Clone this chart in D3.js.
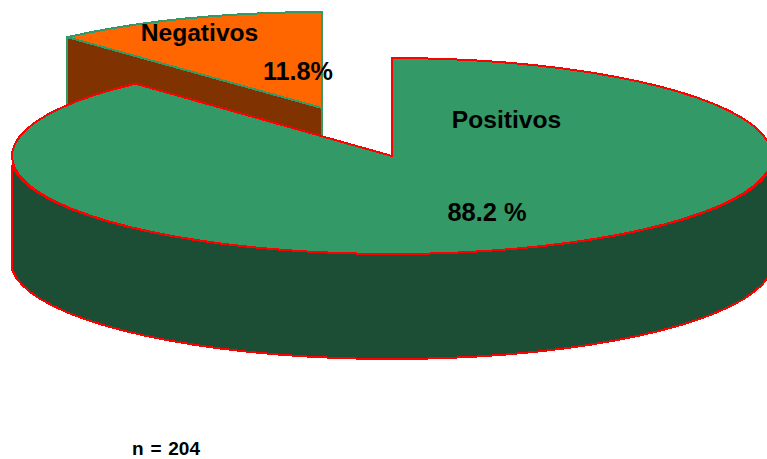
<!DOCTYPE html>
<html>
<head>
<meta charset="utf-8">
<script src="https://cdnjs.cloudflare.com/ajax/libs/d3/7.8.5/d3.min.js"></script>
<style>
  html, body { margin: 0; padding: 0; background: #fff; }
  svg { display: block; }
  path { shape-rendering: crispEdges; }
  text { font-family: "Liberation Sans", Arial, sans-serif; font-weight: bold; fill: #000; }
</style>
</head>
<body>
<div id="chart"></div>
<script>
// Data
const categories = ["Positivos", "Negativos"];
const shares = [88.2, 11.8];
const shareLabels = ["88.2 %", "11.8%"];
const sampleNote = "n = 204";

// Layout
const width = 767;
const height = 459;
const center = {x: 392, y: 156};
const bigRadius = {x: 380, y: 98};
const wallRadius = {x: 381.5, y: 98};
const smallRadius = {x: 377, y: 96};
const depth = 105;
const smallCenter = {x: 322, y: 108};   // the small slice is pulled out up and left
const wallInset = 0.09;                 // wall starts a little inside the ellipse ends

const topColors = ["#339966", "#ff6600"];
const wallColors = ["#1c4e35", "#803300"];
const strokeColors = ["#ff0000", "#339966"];

const svg = d3.select("#chart")
  .append("svg")
    .attr("width", width)
    .attr("height", height);

// Slice angles, clockwise from 12 o'clock
const slices = d3.pie().sort(null)(shares);

// Flatten an angle on to the tilted ellipse
const project = (angle, c, r, dy = 0) => [
  c.x + r.x * Math.sin(angle),
  c.y - r.y * Math.cos(angle) + dy
];

// Rim points between two angles, coarse steps like the original's polyline
const rim = (a0, a1, c, r, dy = 0) => {
  const n = Math.max(2, Math.ceil(Math.abs(a1 - a0) / (Math.PI / 40)));
  return d3.range(n + 1).map(i => project(a0 + (a1 - a0) * i / n, c, r, dy));
};

const line = d3.line();

const topPath = (s, c, r) => line([[c.x, c.y], ...rim(s.startAngle, s.endAngle, c, r)]) + "Z";

/* Small slice, drawn first so the big one covers it */
const small = slices[1];
const edge = project(small.startAngle, smallCenter, smallRadius);

svg.append("path")
  .attr("d", line([
    [smallCenter.x, smallCenter.y],
    edge,
    [edge[0], edge[1] + depth],
    [smallCenter.x, smallCenter.y + depth]
  ]) + "Z")
  .attr("fill", wallColors[1])
  .attr("stroke", strokeColors[1])
  .attr("stroke-width", 2);

svg.append("path")
  .attr("d", topPath(small, smallCenter, smallRadius))
  .attr("fill", topColors[1])
  .attr("stroke", strokeColors[1])
  .attr("stroke-width", 2);

/* Big slice: outer wall, then the top */
const big = slices[0];
const wallStart = Math.PI / 2 + wallInset;
const wallEnd = 3 * Math.PI / 2 - wallInset;

svg.append("path")
  .attr("d", line([
    ...rim(wallStart, wallEnd, center, wallRadius),
    ...rim(wallEnd, wallStart, center, wallRadius, depth)
  ]) + "Z")
  .attr("fill", wallColors[0])
  .attr("stroke", strokeColors[0])
  .attr("stroke-width", 2);

svg.append("path")
  .attr("d", topPath(big, center, bigRadius))
  .attr("fill", topColors[0])
  .attr("stroke", strokeColors[0])
  .attr("stroke-width", 2);

/* Labels */
const labels = [
  {text: categories[0], x: 506.5, y: 128, size: 24.6},
  {text: shareLabels[0], x: 487, y: 221, size: 25.4},
  {text: categories[1], x: 199.5, y: 41, size: 24.6},
  {text: shareLabels[1], x: 298, y: 80, size: 25.2}
];

svg.selectAll(".label")
  .data(labels)
  .join("text")
    .attr("class", "label")
    .attr("x", d => d.x)
    .attr("y", d => d.y)
    .attr("text-anchor", "middle")
    .attr("font-size", d => d.size)
    .text(d => d.text);

svg.append("text")
  .attr("x", 132)
  .attr("y", 455)
  .attr("font-size", 19)
  .attr("word-spacing", 1.5)
  .text(sampleNote);
</script>
</body>
</html>
